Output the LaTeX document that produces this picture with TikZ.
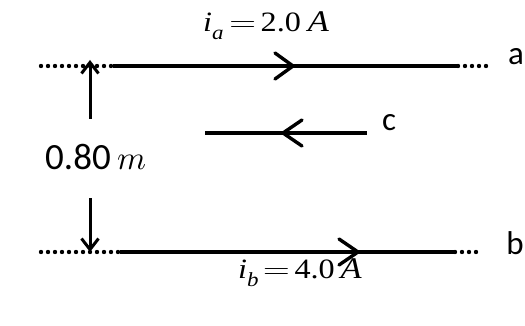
\documentclass[tikz,border=0pt]{standalone}
\usepackage{fontspec}
\usepackage{graphicx}
\setmainfont{Liberation Serif}
\newfontfamily\lblfont{Carlito}
\newfontfamily\lmfont{Latin Modern Roman}
\newfontfamily\lmmath{Latin Modern Math}
\usetikzlibrary{arrows.meta}
\tikzset{
  wire/.style={line width=3.4pt},
  dotline/.style={line width=4.4pt, line cap=round, dash pattern=on 0pt off 7pt},
  chev/.style={line width=3.4pt, line cap=round, line join=miter},
  sep/.style={line width=3pt, -{Straight Barb[length=11pt,width=17pt,line width=3pt]}},
  eq/.style={font=\fontsize{28}{28}\selectfont, anchor=base west, inner sep=0pt},
  lbl/.style={font=\lblfont\fontsize{33}{33}\selectfont, anchor=base, inner sep=0pt},
}
\newcommand{\bigeq}{\scalebox{1.15}[1]{\lmfont =}}
\newcommand{\wideeq}[1]{\scalebox{1.15}[1]{#1}}
\newcommand{\bigA}{{\fontsize{30}{30}\selectfont\textit{A}}}
\begin{document}
\begin{tikzpicture}[x=1pt,y=-1pt]
\useasboundingbox (0,0) rectangle (525,326);
% wire a
\coordinate (a0) at (41,66);
\coordinate (a1) at (113,66);
\coordinate (a2) at (458,66);
\coordinate (a3) at (490,66);
\coordinate (ta) at (293,66);
\draw[dotline] (a0) -- (a1);
\draw[wire] (a1) -- (a2);
\draw[dotline] (a2) -- (a3);
\draw[chev] ([xshift=-18pt,yshift=13pt]ta) -- (ta) -- ([xshift=-18pt,yshift=-13pt]ta);
\node[lbl] (la) at (516,65) {a};
% wire b
\coordinate (b0) at (41,252);
\coordinate (b1) at (120,252);
\coordinate (b2) at (455,252);
\coordinate (b3) at (482,252);
\coordinate (tb) at (358,252);
\draw[dotline] (b0) -- (b1);
\draw[wire] (b1) -- (b2);
\draw[dotline] (b2) -- (b3);
\draw[chev] ([xshift=-19pt,yshift=13pt]tb) -- (tb) -- ([xshift=-19pt,yshift=-13pt]tb);
\node[lbl] (lb) at (515,254) {b};
% wire c
\coordinate (c0) at (205,133);
\coordinate (c1) at (367,133);
\coordinate (tc) at (283,133);
\draw[wire] (c0) -- (c1);
\draw[chev] ([xshift=19pt,yshift=13pt]tc) -- (tc) -- ([xshift=19pt,yshift=-13pt]tc);
\node[lbl] (lc) at (389,131) {c};
% separation
\coordinate (s1) at (90,119);
\coordinate (s2) at (90,60);
\coordinate (s3) at (90,198);
\coordinate (s4) at (90,252);
\draw[sep] (s1) -- (s2);
\draw[sep] (s3) -- (s4);
\node[anchor=base west, inner sep=0pt, font=\lblfont\fontsize{37}{37}\selectfont] (d) at (45,170) {0.80\hspace{7pt}{\lmmath\fontsize{33}{33}\selectfont 𝑚}};
% currents
\node[eq] (ia) at (203,32) {\wideeq{\textit{i}\raisebox{-8pt}{\fontsize{20}{20}\selectfont\textit{a}}\hspace{5pt}\bigeq\hspace{4pt}2.0\hspace{6pt}\bigA}};
\node[eq] (ib) at (238,278) {\wideeq{\textit{i}\raisebox{-8pt}{\fontsize{20}{20}\selectfont\textit{b}}\hspace{4pt}\bigeq\hspace{4pt}4.0\hspace{5pt}\bigA}};
\end{tikzpicture}
\end{document}
